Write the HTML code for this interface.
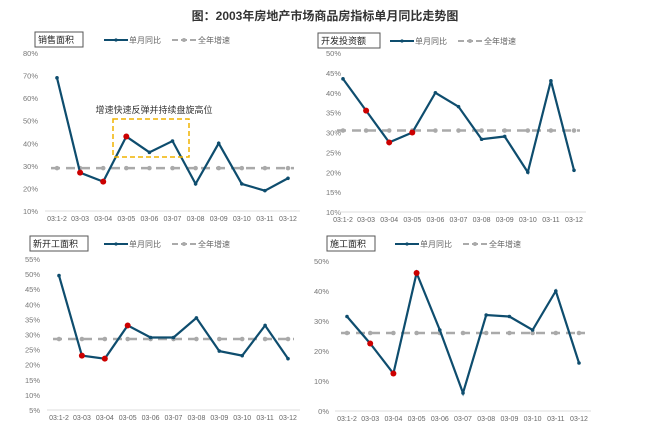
<!DOCTYPE html>
<html><head><meta charset="utf-8"><style>
body{margin:0;background:#fff;}
svg{display:block;font-family:"Liberation Sans","Noto Sans CJK SC",sans-serif;}
</style></head><body>
<svg id="s" width="650" height="435" xmlns="http://www.w3.org/2000/svg">
<text x="325" y="20" text-anchor="middle" font-size="12" font-weight="bold" fill="#333">图：2003年房地产市场商品房指标单月同比走势图</text>
</svg>
<script>
var s=document.getElementById('s'),h='';
var xl=['03:1-2','03-03','03-04','03-05','03-06','03-07','03-08','03-09','03-10','03-11','03-12'];
function P(o){
 var x0=o.x0,x1=o.x1,dx=(x1-x0)/10;
 function Y(v){return o.yb-(v-o.vmin)/(o.vmax-o.vmin)*(o.yb-o.yt);}
 for(var v=o.vmin;v<=o.vmax+0.01;v+=o.step){h+='<text x="'+o.lx+'" y="'+(Y(v)+3)+'" text-anchor="end" font-size="7.5" fill="#777">'+v+'%</text>';}
 h+='<line x1="'+(x0-12)+'" x2="'+(x1+12)+'" y1="'+o.yb+'" y2="'+o.yb+'" stroke="#ddd" stroke-width="1"/>';
 for(var i=0;i<11;i++)h+='<text x="'+(x0+i*dx)+'" y="'+(o.yb+10)+'" text-anchor="middle" font-size="7" fill="#666">'+xl[i]+'</text>';
 var yb=Y(o.base);
 h+='<line x1="'+(x0-6)+'" x2="'+(x1+6)+'" y1="'+yb+'" y2="'+yb+'" stroke="#aaa" stroke-width="2.5" stroke-dasharray="9,6"/>';
 for(var i=0;i<11;i++)h+='<circle cx="'+(x0+i*dx)+'" cy="'+yb+'" r="2.3" fill="#aaa"/>';
 var pts=o.v.map(function(v,i){return (x0+i*dx)+','+Y(v)}).join(' ');
 h+='<polyline points="'+pts+'" fill="none" stroke="#0e4d6e" stroke-width="2.2"/>';
 for(var i=0;i<11;i++){var red=(i>=1&&i<=3);h+='<circle cx="'+(x0+i*dx)+'" cy="'+Y(o.v[i])+'" r="'+(red?3:1.8)+'" fill="'+(red?'#c00':'#0e4d6e')+'"/>';}
 h+='<rect x="'+o.bx+'" y="'+o.by+'" width="'+o.bw+'" height="15" fill="#fff" stroke="#555" stroke-width="1"/>';
 h+='<text x="'+(o.bx+3)+'" y="'+(o.by+11)+'" font-size="9" fill="#222">'+o.t+'</text>';
 var lx=o.gx,ly=o.by+8;
 h+='<line x1="'+lx+'" x2="'+(lx+24)+'" y1="'+ly+'" y2="'+ly+'" stroke="#0e4d6e" stroke-width="2"/><circle cx="'+(lx+12)+'" cy="'+ly+'" r="1.6" fill="#0e4d6e"/>';
 h+='<text x="'+(lx+25)+'" y="'+(ly+3)+'" font-size="8" fill="#666">单月同比</text>';
 h+='<line x1="'+(lx+68)+'" x2="'+(lx+92)+'" y1="'+ly+'" y2="'+ly+'" stroke="#aaa" stroke-width="2" stroke-dasharray="6,3"/><circle cx="'+(lx+80)+'" cy="'+ly+'" r="2" fill="#aaa"/>';
 h+='<text x="'+(lx+94)+'" y="'+(ly+3)+'" font-size="8" fill="#666">全年增速</text>';
}
P({x0:57,x1:288,yt:53,yb:211,vmin:10,vmax:80,step:10,lx:38,base:29,v:[69,27,23,43,36,41,22,40,22,19,24.5],bx:35,by:32,bw:48,t:'销售面积',gx:104});
P({x0:343,x1:574,yt:53,yb:212,vmin:10,vmax:50,step:5,lx:341,base:30.5,v:[43.5,35.5,27.5,30,40,36.5,28.3,29,20,43,20.5],bx:318,by:33,bw:62,t:'开发投资额',gx:390});
P({x0:59,x1:288,yt:259,yb:410,vmin:5,vmax:55,step:5,lx:40,base:28.5,v:[49.5,23,22,33,29,29,35.5,24.5,23,33,22],bx:30,by:236,bw:58,t:'新开工面积',gx:104});
P({x0:347,x1:579,yt:261,yb:411,vmin:0,vmax:50,step:10,lx:329,base:26,v:[31.5,22.5,12.5,46,27,6,32,31.5,27,40,16],bx:327,by:236,bw:48,t:'施工面积',gx:395});
h+='<rect x="113" y="119" width="76" height="38" fill="none" stroke="#f0b400" stroke-width="1.5" stroke-dasharray="5,3"/>';
h+='<text x="154" y="113" text-anchor="middle" font-size="9" fill="#333">增速快速反弹并持续盘旋高位</text>';
s.insertAdjacentHTML('beforeend',h);
</script>
</body></html>
